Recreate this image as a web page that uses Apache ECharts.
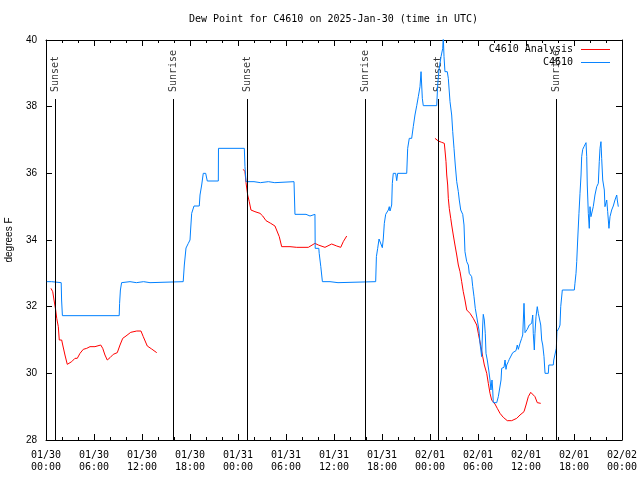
<!DOCTYPE html>
<html>
<head>
<meta charset="utf-8">
<script src="https://cdn.jsdelivr.net/npm/echarts@6/dist/echarts.min.js"></script>
<style>html,body{margin:0;padding:0;background:#fff}#c{width:640px;height:480px}</style>
</head>
<body>
<div id="c"></div>
<script>
// x values are hours since 2025-01-30 00:00 UTC
var tickLabels = ['01/30\n00:00','01/30\n06:00','01/30\n12:00','01/30\n18:00','01/31\n00:00','01/31\n06:00','01/31\n12:00','01/31\n18:00','02/01\n00:00','02/01\n06:00','02/01\n12:00','02/01\n18:00','02/02\n00:00'];

var sunTimes = [1.2, 15.9, 25.15, 39.95, 49.05, 63.8];
var sunNames = ['Sunset','Sunrise','Sunset','Sunrise','Sunset','Sunrise'];

var analysisTimes = [0.62,0.84,1.0,1.21,1.34,1.54,1.66,1.96,2.09,2.37,2.66,2.91,3.21,3.62,3.91,4.25,4.66,5.09,5.5,6.12,6.84,7.09,7.37,7.66,8.0,8.41,8.91,9.25,9.59,10.0,10.59,11.34,11.87,12.16,12.66,13.21,13.84,
  19,
  24.66,24.87,25.0,25.21,25.41,25.62,26.12,26.75,27.09,27.5,28.09,28.62,28.84,29.16,29.46,29.66,30.5,31.34,32.79,33.62,34.04,34.87,35.71,36.34,36.84,37.16,37.59,
  43,
  48.62,49.04,49.46,49.79,49.87,50.0,50.09,50.21,50.29,50.41,50.59,50.71,50.91,51.12,51.34,51.54,51.75,51.96,52.16,52.37,52.59,53.0,53.41,53.84,54.04,54.16,54.37,54.59,54.79,55.09,55.29,55.5,55.71,56.12,56.41,56.75,57.16,57.66,58.21,58.84,59.25,59.75,60.0,60.29,60.59,60.84,61.12,61.41,61.84];
var analysisValues = [32.55,32.45,32.2,31.9,31.65,31.4,31.0,31.0,30.85,30.55,30.27,30.27,30.35,30.45,30.45,30.6,30.72,30.75,30.8,30.8,30.85,30.75,30.55,30.4,30.47,30.57,30.62,30.85,31.05,31.12,31.23,31.27,31.27,31.1,30.82,30.73,30.62,
  null,
  36.12,36.05,35.72,35.35,35.15,34.9,34.85,34.8,34.72,34.58,34.5,34.42,34.37,34.1,33.8,33.75,33.8,33.78,33.78,33.9,33.85,33.78,33.88,33.82,33.78,33.95,34.12,
  null,
  37.05,36.97,36.93,36.9,36.7,36.35,35.95,35.65,35.25,34.95,34.65,34.45,34.15,33.85,33.55,33.25,33.05,32.75,32.45,32.2,31.9,31.8,31.65,31.45,31.2,31.05,30.8,30.5,30.25,30.0,29.7,29.4,29.2,29.08,28.95,28.8,28.68,28.58,28.58,28.65,28.75,28.85,29.05,29.3,29.43,29.43,29.3,29.12,29.1];

var stationTimes = [0.1,0.7,0.75,1.9,1.95,2.05,9.15,9.2,9.3,9.45,9.5,10.5,10.6,11.3,11.4,12.2,12.3,13.0,13.1,17.15,17.29,17.5,17.79,18.0,18.09,18.21,18.5,19.16,19.25,19.46,19.66,19.96,20.16,21.54,21.56,24.79,24.87,25.0,26.0,26.1,26.8,26.9,27.8,27.9,28.6,28.7,31.0,31.12,32.5,32.6,33.0,33.1,33.62,33.65,34.1,34.15,34.3,34.35,34.55,35.5,35.6,36.5,36.6,41.21,41.3,41.46,41.63,41.88,42.04,42.16,42.29,42.46,42.79,42.91,43.0,43.21,43.29,43.41,43.71,43.84,43.96,45.09,45.21,45.41,45.71,45.91,46.12,46.34,46.54,46.75,46.88,47.04,47.16,48.84,48.96,49.12,49.38,49.59,49.66,49.75,49.87,50.16,50.29,50.5,50.71,50.84,51.0,51.16,51.34,51.54,51.66,51.84,52.09,52.25,52.37,52.59,52.79,52.91,53.21,53.34,53.5,53.66,53.91,54.12,54.25,54.34,54.46,54.59,54.66,54.79,54.91,55.0,55.16,55.34,55.5,55.62,55.75,55.84,55.91,56.34,56.54,56.75,56.88,56.96,57.25,57.38,57.5,57.59,57.79,57.91,58.12,58.34,58.54,58.75,58.91,59.04,59.25,59.46,59.59,59.75,59.88,60.0,60.16,60.41,60.71,60.84,60.91,61.04,61.12,61.25,61.41,61.54,61.66,61.84,61.96,62.09,62.25,62.38,62.79,62.85,63.41,63.47,63.7,63.79,63.87,64.16,64.25,64.34,64.54,66.04,66.12,66.25,66.34,66.46,66.62,66.75,66.88,66.96,67.09,67.25,67.5,67.59,67.66,67.79,67.91,68.0,68.12,68.41,68.62,68.84,69.04,69.16,69.25,69.37,69.46,69.59,69.79,69.87,70.09,70.21,70.37,70.5,70.71,70.91,71.12,71.34,71.41,71.54];
var stationValues = [32.75,32.75,32.72,32.72,32.2,31.73,31.73,32.1,32.5,32.72,32.75,32.75,32.72,32.72,32.75,32.75,32.72,32.72,32.75,32.75,33.25,33.76,33.9,34.0,34.36,34.8,35.02,35.02,35.35,35.65,36.0,36.0,35.77,35.77,36.75,36.75,36.2,35.75,35.75,35.72,35.72,35.75,35.75,35.72,35.72,35.75,35.75,34.77,34.77,34.72,34.72,34.77,34.77,33.75,33.75,33.6,33.6,33.2,32.75,32.75,32.72,32.72,32.75,32.75,33.5,33.75,34.03,34.03,33.77,34.03,34.5,34.77,34.9,35.0,34.87,35.05,35.7,36.0,36.0,35.78,36.0,36.0,36.75,37.05,37.05,37.4,37.75,38.03,38.3,38.6,39.05,38.25,38.03,38.03,38.65,39.1,39.5,39.75,40.1,39.5,39.05,39.05,38.85,38.15,37.75,37.25,36.75,36.25,35.75,35.45,35.2,34.9,34.77,34.45,33.65,33.35,33.25,33.0,32.9,32.6,32.3,31.95,31.6,31.3,30.9,30.95,30.5,31.45,31.77,31.6,31.2,30.6,30.4,30.1,29.8,29.5,29.8,29.5,29.12,29.12,29.3,29.35,29.8,30.15,30.18,30.4,30.12,30.25,30.35,30.42,30.48,30.62,30.68,30.68,30.85,30.72,30.9,31.05,31.15,32.1,31.22,31.22,31.32,31.45,31.5,31.75,31.2,30.7,31.2,31.7,32.0,31.8,31.85,31.45,31.0,30.85,30.5,30.0,30.0,30.25,30.25,30.4,30.4,30.75,31.25,31.38,31.45,32.0,32.5,32.5,32.7,33.0,33.35,34.0,34.8,35.4,35.95,36.5,36.72,36.8,36.92,36.5,35.65,34.8,34.35,35.0,34.7,35.0,35.35,35.6,35.7,36.35,36.75,36.95,36.45,35.8,35.5,35.0,35.2,34.85,34.35,34.7,34.9,35.02,35.2,35.35,35.2,35.0];

var MONO = '"DejaVu Sans Mono", "Liberation Mono", monospace';
var SANS = '"Liberation Sans", Arial, sans-serif';

function pairs(ts, vs) {
  return ts.map(function (t, i) { return [t, vs[i] === null ? '-' : vs[i]]; });
}

var chart = echarts.init(document.getElementById('c'), null, {renderer: 'canvas'});

var xBase = {
  type: 'value', min: 0, max: 72, interval: 6,
  axisLine: {show: true, onZero: false, lineStyle: {color: '#000', width: 1}},
  axisTick: {show: true, inside: true, length: 6, lineStyle: {color: '#000'}},
  minorTick: {show: true, splitNumber: 3, length: 3, lineStyle: {color: '#000'}},
  splitLine: {show: false}, minorSplitLine: {show: false}
};
var yBase = {
  type: 'value', min: 28, max: 40, interval: 2,
  axisLine: {show: true, onZero: false, lineStyle: {color: '#000', width: 1}},
  axisTick: {show: true, inside: true, length: 6, lineStyle: {color: '#000'}},
  splitLine: {show: false}
};

var legendIcon = 'path://M0,0L30,0L30,1L0,1Z';

chart.setOption({
  animation: false,
  backgroundColor: '#fff',
  title: {
    text: 'Dew Point for C4610 on 2025-Jan-30 (time in UTC)',
    left: 189, top: 13, padding: 0,
    textStyle: {fontFamily: MONO, fontSize: 10, fontWeight: 'normal', color: '#000', lineHeight: 12}
  },
  legend: {
    orient: 'vertical', right: 30, top: 43, align: 'right', itemGap: 0,
    itemWidth: 29, itemHeight: 10, padding: 0,
    data: [{name: 'C4610 Analysis', icon: legendIcon}, {name: 'C4610', icon: legendIcon}],
    textStyle: {fontFamily: MONO, fontSize: 10, color: '#000', lineHeight: 13, padding: [0, 3, 0, 0]}
  },
  grid: {left: 46, right: 18, top: 40, bottom: 40, containLabel: false, outerBoundsMode: 'none'},
  xAxis: [
    Object.assign({}, xBase, {
      position: 'bottom',
      axisLabel: {
        show: true, margin: 9, color: '#000', fontFamily: MONO, fontSize: 10, lineHeight: 12,
        formatter: function (v) { var i = Math.round(v / 6); return tickLabels[i] || ''; }
      }
    }),
    Object.assign({}, xBase, {position: 'top', axisLabel: {show: false}})
  ],
  yAxis: [
    Object.assign({}, yBase, {
      position: 'left',
      name: 'degrees F', nameLocation: 'middle', nameGap: 32, nameRotate: 90,
      nameTextStyle: {fontFamily: SANS, fontSize: 10, color: '#000'},
      axisLabel: {show: true, margin: 9, color: '#000', fontFamily: SANS, fontSize: 10}
    }),
    Object.assign({}, yBase, {position: 'right', axisLabel: {show: false}})
  ],
  series: [
    {
      name: 'sun', type: 'scatter', xAxisIndex: 0, yAxisIndex: 0,
      symbolSize: 1, itemStyle: {color: 'rgba(0,0,0,0)'},
      silent: true,
      data: sunTimes.map(function (t, i) { return {value: [t, 38.44], name: sunNames[i]}; }),
      label: {
        show: true, position: 'inside', rotate: 90, align: 'left', verticalAlign: 'middle',
        formatter: function (p) { return p.name; },
        fontFamily: MONO, fontSize: 10, color: '#000'
      },
      markLine: {
        silent: true, symbol: ['none', 'none'], animation: false,
        label: {show: false},
        lineStyle: {color: '#000', width: 1, type: 'solid'},
        emphasis: {disabled: true},
        data: sunTimes.map(function (t) { return [{coord: [t, 38.23]}, {coord: [t, 28]}]; })
      }
    },
    {
      name: 'C4610 Analysis', type: 'line', xAxisIndex: 0, yAxisIndex: 0,
      symbol: 'none', showSymbol: false, connectNulls: false,
      lineStyle: {color: '#ff0000', width: 1}, itemStyle: {color: '#ff0000'},
      data: pairs(analysisTimes, analysisValues)
    },
    {
      name: 'C4610', type: 'line', xAxisIndex: 0, yAxisIndex: 0,
      symbol: 'none', showSymbol: false,
      lineStyle: {color: '#0080ff', width: 1}, itemStyle: {color: '#0080ff'},
      data: pairs(stationTimes, stationValues)
    }
  ]
});
</script>
</body>
</html>
